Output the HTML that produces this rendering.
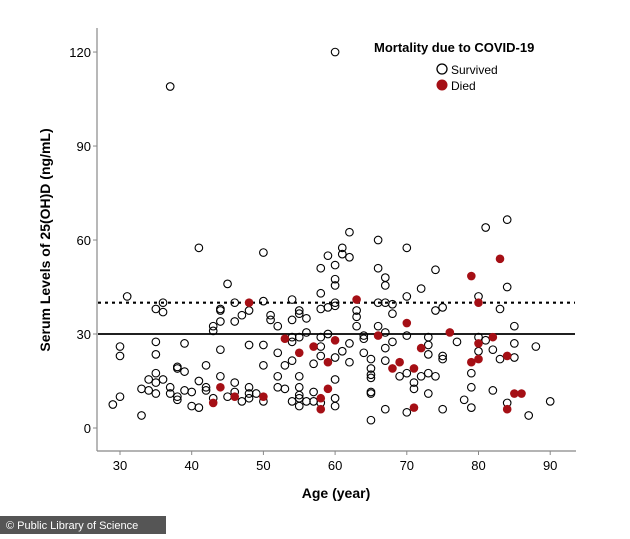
<!DOCTYPE html>
<html><head><meta charset="utf-8"><style>
body{margin:0;background:#fff;width:630px;height:534px;overflow:hidden;font-family:"Liberation Sans",Arial,sans-serif}
</style></head><body>
<svg id="chart" width="630" height="534" xmlns="http://www.w3.org/2000/svg" font-family="Liberation Sans, Arial, sans-serif">
<rect x="0" y="0" width="630" height="534" fill="#fff"/>
<g id="grid"></g>
<g id="marks"></g>
<g id="axes"></g>
<text x="336" y="498" text-anchor="middle" font-size="14" font-weight="bold">Age (year)</text>
<text transform="translate(50,240) rotate(-90)" text-anchor="middle" font-size="14" font-weight="bold">Serum Levels of 25(OH)D (ng/mL)</text>
<g>
<text x="374" y="52" font-size="13" font-weight="bold">Mortality due to COVID-19</text>
<circle cx="442" cy="69" r="5" fill="#fff" stroke="#000" stroke-width="1.3"/>
<text x="451" y="74" font-size="12">Survived</text>
<circle cx="442" cy="85" r="5.5" fill="#a50f15"/>
<text x="451" y="90" font-size="12">Died</text>
</g>
<rect x="0" y="516" width="166" height="18" fill="#555"/>
<text x="6" y="529" font-size="11" fill="#fff">© Public Library of Science</text>
</svg>
<script>
const survivedAge=[41,50,45,31,36,35,36,44,44,46,50,54,48,47,46,44,43,43,51,51,52,55,55,54,56,56,58,59,58,58,59,60,60,60,60,60,30,30,35,35,39,44,48,50,54,55,54,58,58,59,58,60,52,53,54,50,57,42,38,38,39,35,34,36,35,33,34,35,37,37,38,38,39,40,41,42,42,44,45,46,46,43,47,48,48,48,49,50,52,52,53,55,55,55,55,54,55,56,57,57,58,60,60,60,29,30,33,40,41,37,60,
62,66,61,61,62,70,66,67,67,74,72,70,84,66,67,68,63,63,63,68,74,75,80,83,85,66,67,64,64,70,73,73,68,67,62,61,62,64,65,73,75,75,77,80,81,85,88,82,80,83,85,79,79,67,70,69,71,72,73,74,65,65,65,65,65,71,73,67,70,65,75,78,79,82,84,87,90,81,84];
const survivedVal=[57.5,56,46,42,40,38,37,38,37.5,40,40.5,41,37.5,36,34,34,32.5,31,36,34.5,32.5,37.5,36.5,34.5,35,30.5,51,55,43,38,38.5,52,47.5,45.5,40,39,26,23,27.5,23.5,27,25,26.5,26.5,29,29,27.5,26,23,30,29,22.5,24,20,21.5,20,20.5,20,19.5,19,18,17.5,15.5,15.5,14.5,12.5,12,11,13,11,9,10,12,11.5,15,13,12,16.5,10,14.5,11.5,9.5,8.5,13,11,9.5,11,8.5,16.5,13,12.5,16.5,13,10.5,9.5,8.5,7,8.5,11.5,8.5,8,15.5,9.5,7,7.5,10,4,7,6.5,109,120,
62.5,60,57.5,55.5,54.5,57.5,51,48,45.5,50.5,44.5,42,45,40,40,39.5,37.5,35.5,32.5,36.5,37.5,38.5,42,38,32.5,32.5,30.5,29.5,28.5,29.5,29,26.5,27.5,25.5,27,24.5,21,24,22,23.5,23,22,27.5,29,28,27,26,25,24.5,22,22.5,17.5,13,21.5,17.5,16.5,14.5,16.5,17.5,16.5,19,17,16,11.5,11,12.5,11,6,5,2.5,6,9,6.5,12,8,4,8.5,64,66.5];
const diedAge=[48,53,55,57,59,60,44,46,43,50,58,58,59,63,70,76,66,72,79,83,80,82,80,84,79,80,68,69,71,71,85,86,84];
const diedVal=[40,28.5,24,26,21,28,13,10,8,10,9.5,6,12.5,41,33.5,30.5,29.5,25.5,48.5,54,40,29,27,23,21,22,19,21,19,6.5,11,11,6];
const xTicks=[30,40,50,60,70,80,90];
const yTicks=[0,30,60,90,120];
const refLines=[40,30];
const NS='http://www.w3.org/2000/svg';
function xs(a){return 120+(a-30)*7.17;}
function ys(v){return 428-v*3.133;}
function mk(tag,attrs,parent){const e=document.createElementNS(NS,tag);for(const k in attrs)e.setAttribute(k,attrs[k]);parent.appendChild(e);return e;}
const grid=document.getElementById('grid'),marks=document.getElementById('marks'),axes=document.getElementById('axes');
refLines.forEach((v,i)=>{
  const l=mk('line',{x1:98,x2:575,y1:ys(v),y2:ys(v),stroke:'#000','stroke-width':i===0?2.2:1.8},grid);
  if(i===0)l.setAttribute('stroke-dasharray','3,4');
  
  
});
survivedAge.forEach((a,i)=>{
  const c=mk('circle',{cx:xs(a),cy:ys(survivedVal[i]),r:3.8,fill:'none',stroke:'#000','stroke-width':1.1},marks);
  
  
});
diedAge.forEach((a,i)=>{
  const c=mk('circle',{cx:xs(a),cy:ys(diedVal[i]),r:4.3,fill:'#a50f15'},marks);
  
  
});
const ya=mk('line',{x1:97,x2:97,y1:28,y2:451,stroke:'#888','stroke-width':1.2},axes);


const xa=mk('line',{x1:97,x2:576,y1:451,y2:451,stroke:'#888','stroke-width':1.2},axes);


xTicks.forEach(t=>{
  mk('line',{x1:xs(t),x2:xs(t),y1:451,y2:455,stroke:'#888'},axes);
  const tx=mk('text',{x:xs(t),y:470,'text-anchor':'middle','font-size':13},axes);
  tx.textContent=t;
  
  
});
yTicks.forEach(t=>{
  mk('line',{x1:93,x2:97,y1:ys(t),y2:ys(t),stroke:'#888'},axes);
  const tx=mk('text',{x:91,y:ys(t)+5,'text-anchor':'end','font-size':13},axes);
  tx.textContent=t;
  
  
});
</script>
</body></html>
